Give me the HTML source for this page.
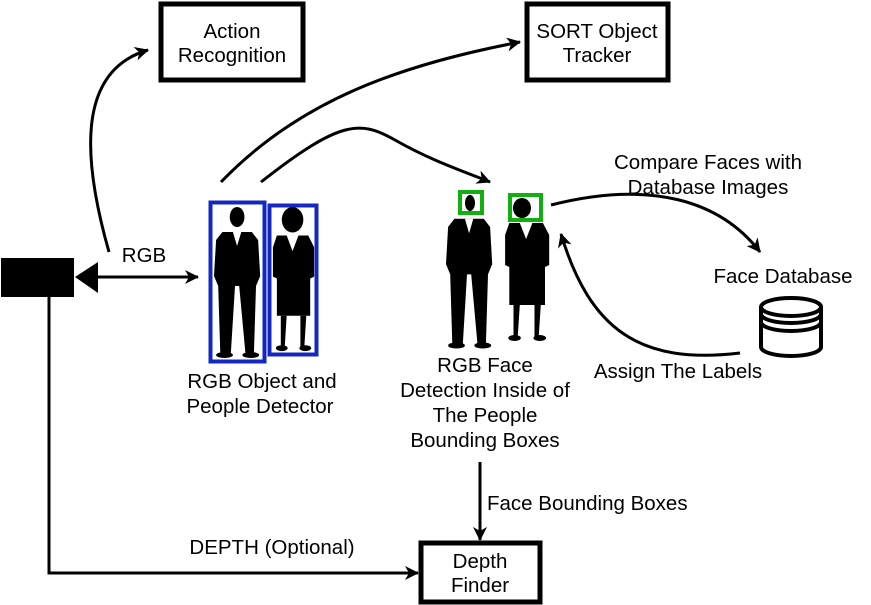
<!DOCTYPE html>
<html><head><meta charset="utf-8"><style>
html,body{margin:0;padding:0;background:#fff;}
svg{display:block;font-family:"Liberation Sans",sans-serif;}
</style></head><body>
<svg width="871" height="605" viewBox="0 0 871 605" xmlns="http://www.w3.org/2000/svg">
<defs>
<marker id="b" markerWidth="14" markerHeight="14" refX="13" refY="7" orient="auto" markerUnits="userSpaceOnUse" viewBox="0 0 14 14">
<path d="M0,0 L14,7 L0,14 L4,7 Z" fill="#000"/></marker>
<g id="man">
<ellipse cx="22" cy="11" rx="7" ry="10" fill="#000"/>
<path d="M8,26 L36,26 L42,34 L44,70 L40,80 L38,148 L30,148 L24,80 L20,80 L16,148 L6,148 L4,80 L0,70 L2,34 Z" fill="#000"/>
<path d="M18,26 L22,40 L26,26 Z" fill="#fff"/>
<ellipse cx="10" cy="149" rx="8" ry="3" fill="#000"/>
<ellipse cx="35" cy="149" rx="8" ry="3" fill="#000"/>
</g>
<g id="woman">
<ellipse cx="22" cy="12" rx="11" ry="13" fill="#000"/>
<path d="M6,28 L38,28 L44,40 L44,70 L40,72 L40,110 L6,110 L6,72 L2,70 L2,40 Z" fill="#000"/>
<path d="M16,28 L22,44 L28,28 Z" fill="#fff"/>
<path d="M10,110 L16,110 L14,142 L10,142 Z M30,110 L36,110 L34,142 L30,142 Z" fill="#000"/>
<ellipse cx="11" cy="143" rx="6" ry="3" fill="#000"/>
<ellipse cx="35" cy="143" rx="6" ry="3" fill="#000"/>
</g>
</defs>

<g font-size="20.5">
<rect x="161" y="4" width="142" height="76" fill="#fff" stroke="#000" stroke-width="5"/>
<text x="232" y="38" text-anchor="middle">Action</text>
<text x="232" y="62" text-anchor="middle">Recognition</text>
<rect x="527" y="4" width="141" height="76" fill="#fff" stroke="#000" stroke-width="5"/>
<text x="597" y="38" text-anchor="middle">SORT Object</text>
<text x="597" y="62" text-anchor="middle">Tracker</text>
<rect x="421" y="543" width="119" height="59" fill="#fff" stroke="#000" stroke-width="5"/>
<text x="480" y="568" text-anchor="middle">Depth</text>
<text x="480" y="592" text-anchor="middle">Finder</text>

<rect x="1" y="258" width="73" height="39" fill="#000"/>
<path d="M75,277 L98,262 L98,293 Z" fill="#000"/>
<line x1="98" y1="277" x2="198" y2="277" stroke="#000" stroke-width="3" marker-end="url(#b)"/>
<text x="144" y="262" text-anchor="middle">RGB</text>
<polyline points="49,297 49,573 418,573" fill="none" stroke="#000" stroke-width="3" marker-end="url(#b)"/>
<text x="272" y="554" text-anchor="middle">DEPTH (Optional)</text>

<path d="M109,252 C80,150 80,70 148,50" fill="none" stroke="#000" stroke-width="3" marker-end="url(#b)"/>
<path d="M221,182 C300,100 400,65 520,42" fill="none" stroke="#000" stroke-width="3" marker-end="url(#b)"/>
<path d="M261,182 C340,120 360,120 395,140 C430,160 460,170 490,182" fill="none" stroke="#000" stroke-width="3" marker-end="url(#b)"/>
<path d="M551,205 C650,180 720,200 760,252" fill="none" stroke="#000" stroke-width="3" marker-end="url(#b)"/>
<path d="M740,353 C640,365 590,330 561,234" fill="none" stroke="#000" stroke-width="3" marker-end="url(#b)"/>
<line x1="480" y1="462" x2="480" y2="540" stroke="#000" stroke-width="3" marker-end="url(#b)"/>

<use href="#man" transform="translate(214,206) scale(1.05,1.0)"/>
<use href="#woman" transform="translate(271,208) scale(0.98,0.98)"/>
<rect x="210.5" y="202.5" width="54" height="159" fill="none" stroke="#1428c0" stroke-width="4"/>
<rect x="269.5" y="205.5" width="47" height="149" fill="none" stroke="#1428c0" stroke-width="4"/>

<use href="#man" transform="translate(446,192) scale(1.05,1.03)"/>
<use href="#woman" transform="translate(503,195) scale(1.05,1.0)"/>
<rect x="460" y="192" width="22" height="21" fill="#fff" stroke="#10b010" stroke-width="4"/>
<ellipse cx="470" cy="203" rx="5" ry="8" fill="#000"/>
<rect x="510" y="195" width="31" height="25" fill="#fff" stroke="#10b010" stroke-width="4"/>
<ellipse cx="522" cy="208" rx="9" ry="10" fill="#000"/>

<path d="M761,307 L761,347 A30,9 0 0 0 821,347 L821,307" fill="#fff" stroke="#000" stroke-width="4"/>
<ellipse cx="791" cy="307" rx="30" ry="9" fill="#fff" stroke="#000" stroke-width="4"/>
<path d="M761,314 A30,9 0 0 0 821,314 M761,322 A30,9 0 0 0 821,322" fill="none" stroke="#000" stroke-width="4"/>

<text x="262" y="388" text-anchor="middle">RGB Object and</text>
<text x="260" y="413" text-anchor="middle">People Detector</text>
<text x="485" y="372" text-anchor="middle">RGB Face</text>
<text x="485" y="397" text-anchor="middle">Detection Inside of</text>
<text x="485" y="422" text-anchor="middle">The People</text>
<text x="485" y="447" text-anchor="middle">Bounding Boxes</text>
<text x="487" y="510">Face Bounding Boxes</text>
<text x="708" y="169" text-anchor="middle">Compare Faces with</text>
<text x="708" y="194" text-anchor="middle">Database Images</text>
<text x="783" y="283" text-anchor="middle">Face Database</text>
<text x="678" y="378" text-anchor="middle">Assign The Labels</text>
</g>
</svg>
</body></html>
